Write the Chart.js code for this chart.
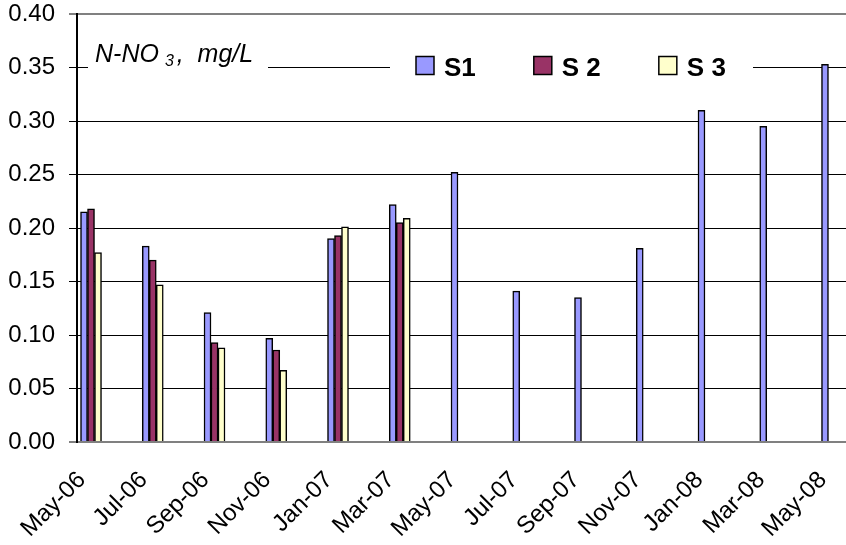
<!DOCTYPE html>
<html>
<head>
<meta charset="utf-8">
<script src="https://cdn.jsdelivr.net/npm/chart.js@4"></script>
<style>
  html, body { margin: 0; padding: 0; background: #fff; overflow: hidden; }
  #chart { display: block; }
</style>
</head>
<body>
<canvas id="chart" width="846" height="545"></canvas>
<script>
// ─── DATA ──────────────────────────────────────────────────
const MONTHS = ['May-06', 'Jul-06', 'Sep-06', 'Nov-06', 'Jan-07', 'Mar-07', 'May-07',
                'Jul-07', 'Sep-07', 'Nov-07', 'Jan-08', 'Mar-08', 'May-08'];
const S1 = [0.215, 0.183, 0.121, 0.097, 0.190, 0.222, 0.252, 0.141, 0.135, 0.181, 0.310, 0.295, 0.353];
const S2 = [0.218, 0.170, 0.093, 0.086, 0.193, 0.205, null, null, null, null, null, null, null];
const S3 = [0.177, 0.147, 0.088, 0.067, 0.201, 0.209, null, null, null, null, null, null, null];
const SERIES_NAMES = ['S1', 'S 2', 'S 3'];
const SERIES_COLORS = ['#9999FF', '#993366', '#FFFFCC'];
const Y_TICKS = [0, 0.05, 0.10, 0.15, 0.20, 0.25, 0.30, 0.35, 0.40];

const FONT = '"Liberation Sans", Arial, sans-serif';

// month index -> {x, y} so the bars sit on a linear (date-like) axis
const toPoints = (arr) => arr.map((y, i) => ({ x: i, y }));

// Title + legend drawn over the plot, each on a white patch that hides the grid line
const overlayPlugin = {
    id: 'overlay',
    afterDraw(chart) {
        const ctx = chart.ctx;
        const gy = chart.scales.y.getPixelForValue(0.35);
        ctx.save();

        // title "N-NO3, mg/L"
        ctx.fillStyle = '#fff';
        ctx.fillRect(88, gy - 28, 180, 40);
        ctx.fillStyle = '#000';
        ctx.textBaseline = 'alphabetic';
        ctx.font = `italic 25px ${FONT}`;
        let x = 95;
        ctx.fillText('N-NO', x, gy - 6);
        x += ctx.measureText('N-NO').width + 6;
        ctx.font = `italic 16px ${FONT}`;
        ctx.fillText('3', x, gy - 2);
        x += ctx.measureText('3').width + 3;
        ctx.font = `italic 25px ${FONT}`;
        ctx.fillText(',  mg/L', x, gy - 6);

        // legend
        ctx.fillStyle = '#fff';
        ctx.fillRect(390, gy - 20, 363, 34);
        ctx.font = `bold 26px ${FONT}`;
        let lx = 416;
        chart.data.datasets.forEach((ds) => {
            ctx.fillStyle = ds.backgroundColor;
            ctx.fillRect(lx, gy - 11, 18, 18);
            ctx.strokeStyle = '#000';
            ctx.lineWidth = 1.5;
            ctx.strokeRect(lx, gy - 11, 18, 18);
            ctx.fillStyle = '#000';
            ctx.fillText(ds.label, lx + 28, gy + 8);
            lx += 28 + ctx.measureText(ds.label).width + 58;
        });
        ctx.restore();
    }
};

const datasets = [S1, S2, S3].map((arr, k) => ({
    label: SERIES_NAMES[k],
    data: toPoints(arr),
    backgroundColor: SERIES_COLORS[k],
    borderColor: '#000',
    borderWidth: 1.5,
    barThickness: 7,
}));

const isEdge = (c) => c.tick && (c.tick.value === 0 || c.tick.value === 0.4);

new Chart(document.getElementById('chart'), {
    type: 'bar',
    data: { datasets },
    options: {
        responsive: false,
        animation: false,
        events: [],
        layout: { padding: 0 },
        plugins: {
            legend: { display: false },
            tooltip: { enabled: false },
        },
        scales: {
            x: {
                type: 'linear',
                offset: false,
                min: -0.227,
                max: 12.227,
                afterBuildTicks: (s) => { s.ticks = MONTHS.map((_, i) => ({ value: i })); },
                afterFit: (s) => { s.height = 103; s.paddingLeft = 0; s.paddingRight = 0; },
                grid: { display: false, drawTicks: false },
                border: { display: true, color: '#808080', width: 2 },
                ticks: {
                    autoSkip: false,
                    minRotation: 45,
                    maxRotation: 45,
                    padding: 24,
                    labelOffset: -9,
                    color: '#000',
                    font: { family: FONT, size: 24 },
                    callback: (v, i) => MONTHS[i],
                },
            },
            y: {
                min: 0,
                max: 0.4,
                afterBuildTicks: (s) => { s.ticks = Y_TICKS.map((v) => ({ value: v })); },
                afterFit: (s) => { s.width = 77; s.paddingTop = 14; s.paddingBottom = 0; },
                grid: {
                    color: (c) => isEdge(c) ? '#808080' : '#000',
                    lineWidth: (c) => isEdge(c) ? 2 : 1,
                    tickColor: '#000',
                    tickWidth: 1,
                    tickLength: 8,
                },
                border: { display: true, color: '#000', width: 2 },
                ticks: {
                    padding: 14,
                    color: '#000',
                    font: { family: FONT, size: 24 },
                    callback: (v) => v.toFixed(2),
                },
            },
        },
    },
    plugins: [overlayPlugin],
});
</script>
</body>
</html>
